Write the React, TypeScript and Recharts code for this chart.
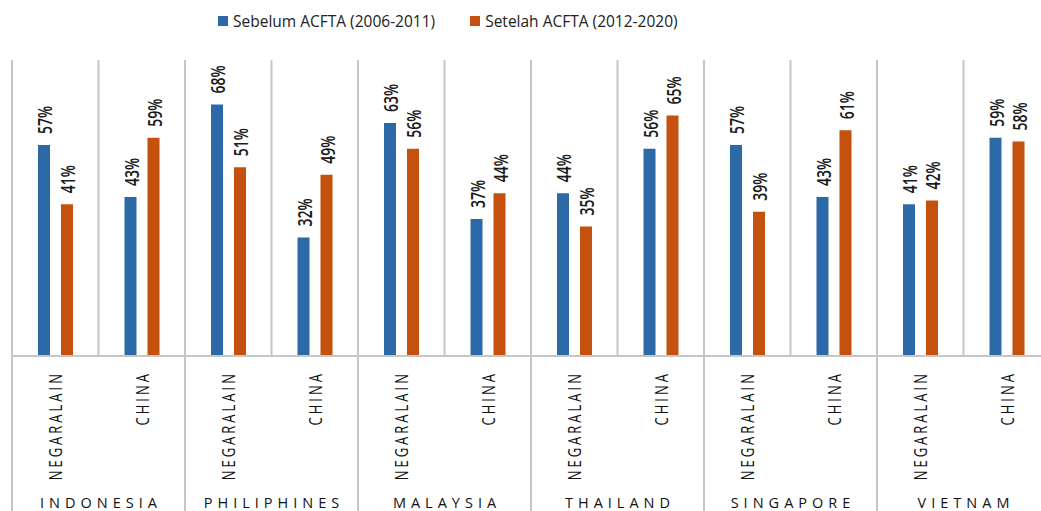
import { BarChart, Bar, XAxis, YAxis, Legend, LabelList, ReferenceLine } from "recharts"

const COUNTRIES = ["INDONESIA", "PHILIPHINES", "MALAYSIA", "THAILAND", "SINGAPORE", "VIETNAM"]
const PARTNERS = ["NEGARALAIN", "CHINA"]
// shares in %, ordered country by country: negara lain, china
const SEBELUM = [57, 43, 68, 32, 63, 37, 44, 56, 57, 43, 41, 59]
const SETELAH = [41, 59, 51, 49, 56, 44, 35, 65, 39, 61, 42, 58]
const COUNTRY_TICKS = [1, 3, 5, 7, 9, 11]

const BLUE = "#2c6aa7"
const ORANGE = "#c4510d"
const LINE = "#c6c6c6"
const FONT = "'Open Sans', 'Noto Sans', sans-serif"

const data = COUNTRIES.flatMap((country, i) =>
  PARTNERS.map((partner, j) => ({
    country,
    partner,
    pos: i * 2 + j + 0.5,
    sebelum: SEBELUM[i * 2 + j],
    setelah: SETELAH[i * 2 + j],
  }))
)

const SERIES = [
  { key: "sebelum", name: "Sebelum ACFTA (2006-2011)", color: BLUE },
  { key: "setelah", name: "Setelah ACFTA (2012-2020)", color: ORANGE },
]

function BarLabel(props: any) {
  const { x, y, width, value } = props
  const cx = Number(x) + Number(width) / 2 + 1
  return (
    <text
      transform={`translate(${cx},${Number(y) - 11}) rotate(-90) scale(1,1.4)`}
      textAnchor="start"
      dominantBaseline="central"
      fontFamily={FONT}
      fontSize={14}
      fontWeight={600}
      fill="#1a1a1a"
    >
      {value}%
    </text>
  )
}

function PartnerTick(props: any) {
  const { x, y, payload } = props
  return (
    <text
      transform={`translate(${x},${y + 15}) rotate(-90) scale(1,1.45)`}
      textAnchor="end"
      dominantBaseline="central"
      fontFamily={FONT}
      fontSize={13}
      fontWeight={500}
      letterSpacing={3}
      fill="#111"
    >
      {payload.value}
    </text>
  )
}

function CountryTick(props: any) {
  const { x, y, payload } = props
  const name = COUNTRIES[(payload.value - 1) / 2]
  return (
    <text
      x={x + 2.5}
      y={y + 22}
      textAnchor="middle"
      fontFamily={FONT}
      fontSize={14.5}
      fontWeight={500}
      letterSpacing={5}
      fill="#111"
    >
      {name}
    </text>
  )
}

function LegendContent() {
  return (
    <div style={{ display: "flex", gap: 35, fontFamily: FONT, fontSize: 15.5, color: "#222", whiteSpace: "nowrap" }}>
      {SERIES.map((s) => (
        <div key={s.key} style={{ display: "flex", alignItems: "center" }}>
          <span style={{ width: 10, height: 10, background: s.color, marginRight: 5, display: "inline-block" }} />
          <span>{s.name}</span>
        </div>
      ))}
    </div>
  )
}

export default function App() {
  const boundaries = Array.from({ length: 13 }, (_, i) => i)
  return (
    <div style={{ width: 1041, height: 511, background: "#fff" }}>
      <style>{`body{margin:0}`}</style>
      <BarChart
        width={1041}
        height={511}
        data={data}
        margin={{ top: 60, right: -9, bottom: 0, left: 12 }}
        barSize={12}
        barGap={11}
      >
        <XAxis
          xAxisId="cat"
          dataKey="partner"
          interval={0}
          height={130}
          tickLine={false}
          tickSize={0}
          tickMargin={0}
          axisLine={{ stroke: LINE, strokeWidth: 2 }}
          tick={<PartnerTick />}
        />
        <XAxis
          xAxisId="country"
          dataKey="pos"
          type="number"
          domain={[0, 12]}
          allowDataOverflow
          ticks={COUNTRY_TICKS}
          interval={0}
          height={25}
          tickLine={false}
          tickSize={0}
          tickMargin={0}
          axisLine={false}
          tick={<CountryTick />}
        />
        <YAxis hide domain={[0, 80]} />
        <Legend
          layout="horizontal"
          verticalAlign="middle"
          content={<LegendContent />}
          wrapperStyle={{ top: 10, left: 218, width: "auto", height: "auto" }}
        />
        {boundaries.map((b) => (
          <ReferenceLine
            key={b}
            xAxisId="country"
            segment={[
              { x: b, y: 80 },
              { x: b, y: b % 2 === 0 ? -42 : 0 },
            ]}
            ifOverflow="visible"
            stroke={LINE}
            strokeWidth={2}
          />
        ))}
        {SERIES.map((s) => (
          <Bar key={s.key} xAxisId="cat" dataKey={s.key} name={s.name} fill={s.color} isAnimationActive={false}>
            <LabelList dataKey={s.key} content={<BarLabel />} />
          </Bar>
        ))}
      </BarChart>
    </div>
  )
}
